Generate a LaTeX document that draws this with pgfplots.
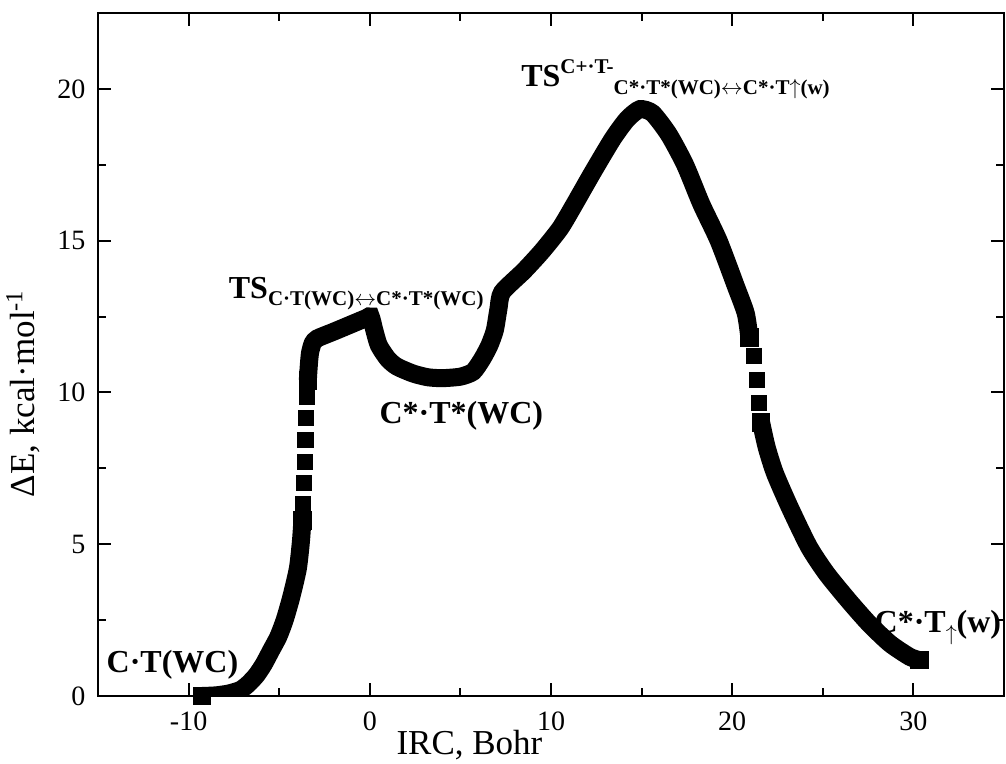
\documentclass[border=0pt]{standalone}
\usepackage{fontspec}
\setmainfont{Liberation Serif}
\usepackage{pgfplots}
\pgfplotsset{compat=1.18}
\newcommand{\lab}{\bfseries\fontsize{16}{19}\selectfont}
\newcommand{\sub}{\fontsize{10.5}{12}\selectfont}
\begin{document}
\begin{tikzpicture}
\begin{axis}[
  scale only axis, width=453pt, height=341.5pt,
  xmin=-15, xmax=35, ymin=0, ymax=22.5,
  axis line style={line width=1pt},
  every tick/.style={line width=1pt, black},
  major tick length=6.5pt, minor tick length=4pt,
  tick align=inside,
  xtick={-10,0,10,20,30}, xticklabels={-10,0,10,20,30},
  minor xtick={-5,5,15,25},
  ytick={0,5,10,15,20}, yticklabels={0,5,10,15,20},
  minor ytick={2.5,7.5,12.5,17.5},
  ticklabel style={font=\fontsize{14}{16}\selectfont},
  xticklabel style={anchor=base, yshift=-17.5pt},
  yticklabel style={anchor=east, xshift=-2.8pt},
  xlabel={IRC, Bohr},
  ylabel={ΔE, kcal·mol\textsuperscript{-1}},
  label style={font=\fontsize{17.5}{20}\selectfont},
  xlabel style={at={([yshift=-29.5pt]axis description cs:0.41,0)}, anchor=base},
  ylabel style={at={([xshift=-31.5pt]axis description cs:0,0.443)}, anchor=base},
]
\coordinate (ll) at (rel axis cs:0,0);
\coordinate (ur) at (rel axis cs:1,1);
% continuous segment A
\addplot[black, line width=9pt, smooth, tension=0.4, mark=square*, mark size=4.4pt,
  mark options={line width=0pt}, mark indices={1,14}] coordinates {
(-9.25,0.0) (-8.5,0.02) (-7.8,0.08) (-7.14,0.2) (-6.7,0.4) (-6.25,0.69)
(-5.85,1.05) (-5.45,1.5) (-5.05,1.95) (-4.7,2.5) (-4.33,3.27) (-3.97,4.2)
(-3.8,5.1) (-3.72,5.78)
};
% separate squares 1
\addplot[black, only marks, mark=square*, mark size=3.8pt, mark options={line width=0pt}] coordinates {
(-3.68,6.32) (-3.65,7.01) (-3.59,7.72) (-3.55,8.44) (-3.5,9.15) (-3.46,9.86)
};
% continuous segment B
\addplot[black, line width=9pt, smooth, tension=0.4, mark=square*, mark size=4.4pt,
  mark options={line width=0pt}, mark indices={1,39}] coordinates {
(-3.42,10.4) (-3.37,10.86) (-3.3,11.3) (-3.15,11.62) (-2.9,11.78) (-2.0,12.0)
(-1.0,12.25) (-0.2,12.45) (0.05,12.5) (0.25,12.05) (0.5,11.55) (1.0,11.1)
(1.5,10.85) (2.4,10.62) (3.2,10.5) (4.0,10.47) (5.0,10.52) (5.7,10.68)
(6.2,11.1) (6.6,11.55) (6.9,12.05) (7.1,12.75) (7.3,13.3) (8.5,14.0)
(9.5,14.65) (10.5,15.4) (11.2,16.1) (12.3,17.25) (13.4,18.35) (14.2,19.0)
(14.9,19.33) (15.6,19.2) (16.5,18.5) (17.4,17.5) (18.3,16.2) (19.25,15.0)
(20.2,13.5) (20.75,12.6) (20.95,11.8)
};
% separate squares 2
\addplot[black, only marks, mark=square*, mark size=3.8pt, mark options={line width=0pt}] coordinates {
(21.2,11.2) (21.37,10.41) (21.48,9.64)
};
% continuous segment C
\addplot[black, line width=9pt, smooth, tension=0.4, mark=square*, mark size=4.4pt,
  mark options={line width=0pt}, mark indices={1,11}] coordinates {
(21.6,9.0) (21.9,8.2) (22.35,7.35) (23.15,6.25) (24.23,4.92) (25.2,4.04)
(26.4,3.16) (27.54,2.39) (28.7,1.73) (29.8,1.29) (30.35,1.18)
};
\node[anchor=base west, inner sep=0, font=\lab] at (axis cs:-14.54,0.79) {C·T(WC)};
\node[anchor=base west, inner sep=0, font=\lab] at (axis cs:-7.8,13.11)
  {TS\raisebox{-3.5pt}{\sub C·T(WC)$\leftrightarrow$C*·T*(WC)}};
\node[anchor=base west, inner sep=0, font=\lab] at (axis cs:0.52,8.99) {C*·T*(WC)};
\node[anchor=base west, inner sep=0, font=\lab] at (axis cs:8.34,20.08)
  {TS\raisebox{6.7pt}{\sub C+·T-}\raisebox{-4.2pt}{\sub C*·T*(WC)$\leftrightarrow$C*·T$\uparrow$(w)}};
\node[anchor=base west, inner sep=0, font=\lab] at (axis cs:27.84,2.1)
  {C*·T\raisebox{-4pt}{\sub $\uparrow$}(w)};
\end{axis}
\pgfresetboundingbox
\useasboundingbox ([xshift=-49pt,yshift=-34pt]ll) rectangle ([xshift=1pt,yshift=6.5pt]ur);
\end{tikzpicture}
\end{document}
